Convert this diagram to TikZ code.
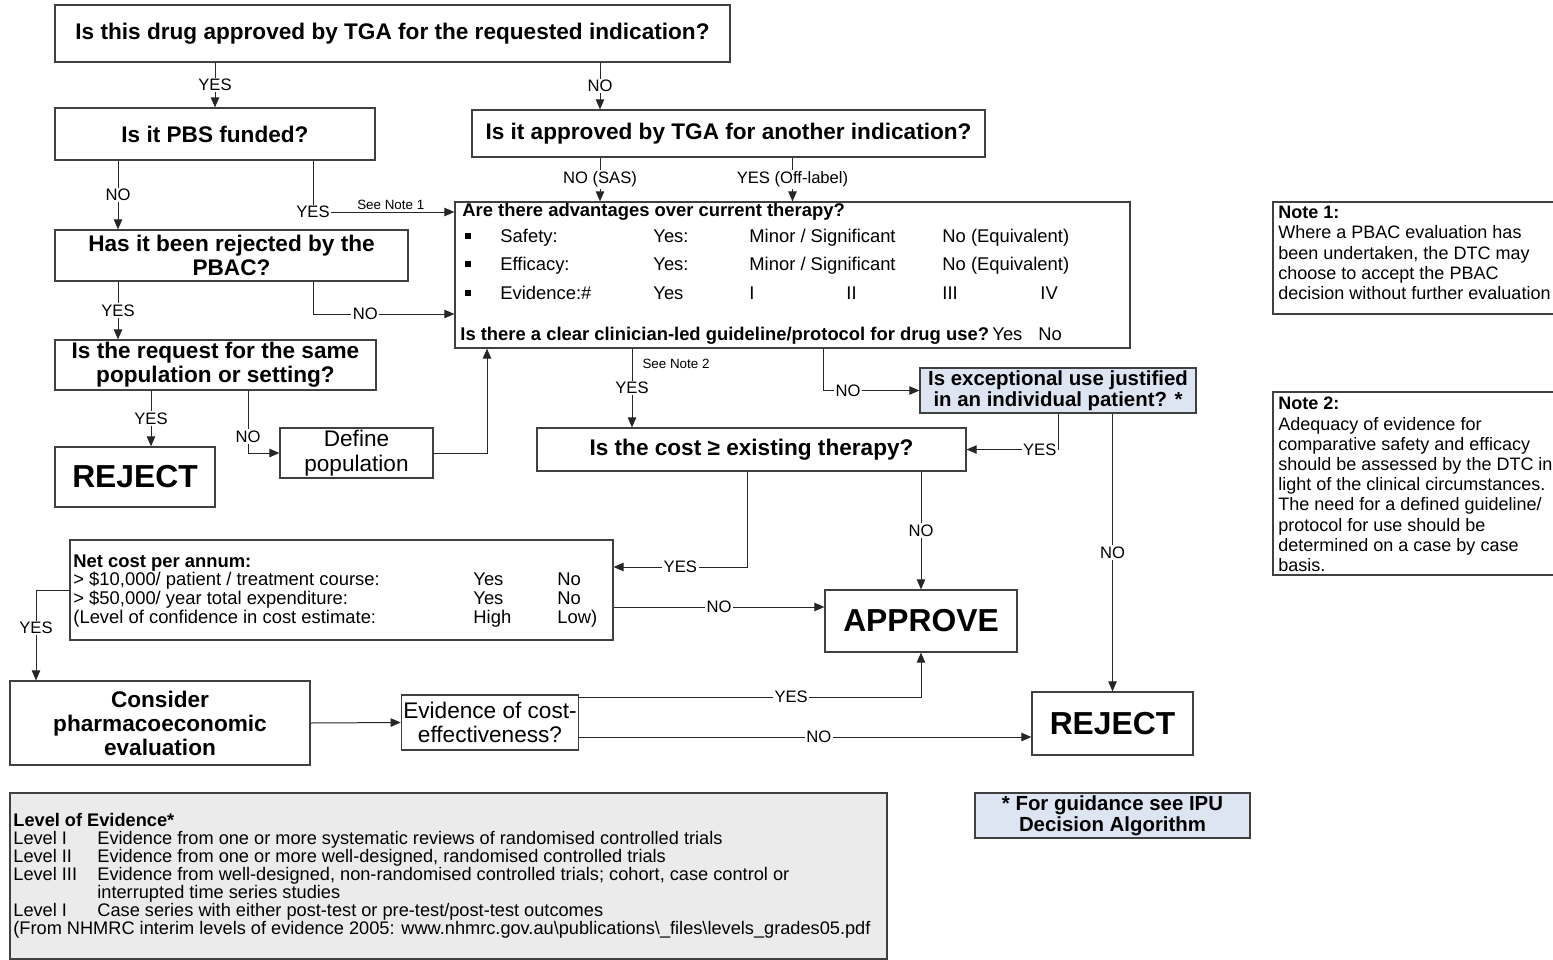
\documentclass[tikz,border=0pt]{standalone}
\usepackage{fontspec}
\setmainfont{Liberation Sans}
\usepackage{tikz}
\usetikzlibrary{arrows.meta,positioning}
\definecolor{ipublue}{RGB}{221,228,242}
\definecolor{evidgray}{RGB}{235,235,235}
\definecolor{edgegray}{RGB}{64,64,64}

\begin{document}
\begin{tikzpicture}[
        x=0.5pt, y=-0.5pt,
        % boxes are sized in pt, placed in pixel units of the page
        box/.style={rectangle, draw=edgegray, line width=0.6pt, fill=white, text=black,
            align=center, inner sep=1pt,
            font=\fontsize{11.3}{12}\selectfont\bfseries},
        plainbox/.style={box, font=\fontsize{11.3}{12.2}\selectfont},
        endbox/.style={box, font=\fontsize{15.9}{16}\selectfont\bfseries},
        bluebox/.style={box, fill=ipublue, font=\fontsize{10.2}{10.4}\selectfont\bfseries},
        txt/.style={anchor=base west, inner sep=0pt, font=\fontsize{9.2}{10}\selectfont},
        evtxt/.style={txt, font=\fontsize{9.1}{9}\selectfont},
        notetxt/.style={anchor=north west, inner sep=0pt, align=left,
            font=\fontsize{9}{10.1}\selectfont},
        bullet/.style={fill=black, inner sep=0pt, minimum size=3pt},
        lbl/.style={fill=white, inner sep=0.8pt, font=\fontsize{8.3}{9}\selectfont},
        small/.style={inner sep=1pt, font=\fontsize{6.7}{7}\selectfont},
        arr/.style={draw=black!85, line width=0.5pt, -{Triangle[length=5pt,width=4.2pt]}}
    ]
        \useasboundingbox (0,0) rectangle (1553,959);

        % Questions
        \node[box, minimum width=337.5pt, minimum height=28.5pt] (q1) at (392.5,33.5) {Is this drug approved by TGA for the requested indication?};
        \node[box, minimum width=160pt, minimum height=26pt] (q2) at (215,134) {Is it PBS funded?};
        \node[box, minimum width=256.5pt, minimum height=23.5pt] (q3) at (728.5,133.5) {Is it approved by TGA for another indication?};
        \node[box, minimum width=337.5pt, minimum height=73pt] (adv) at (792.5,275) {};
        \node[box, minimum width=176.5pt, minimum height=25.5pt] (q4) at (231.5,255.5) {Has it been rejected by the\\PBAC?};
        \node[box, minimum width=160.5pt, minimum height=25pt] (q5) at (215.5,365) {Is the request for the same\\population or setting?};
        \node[endbox, minimum width=80pt, minimum height=30pt] (rej1) at (135,477) {REJECT};
        \node[plainbox, minimum width=76.5pt, minimum height=25pt] (defpop) at (356.5,453) {Define\\population};
        \node[box, minimum width=214.5pt, minimum height=21.5pt] (q6) at (751.5,449.5) {Is the cost ≥ existing therapy?};
        \node[bluebox, minimum width=138pt, minimum height=22.5pt] (q7) at (1058,390.5) {Is exceptional use justified\\in an individual patient? *};
        \node[box, minimum width=271.5pt, minimum height=50pt] (netcost) at (341.5,590) {};
        \node[endbox, minimum width=96pt, minimum height=31pt] (appr) at (921,621) {APPROVE};
        \node[box, minimum width=150pt, minimum height=42pt] (pe) at (160,723) {Consider\\pharmacoeconomic\\evaluation};
        \node[plainbox, minimum width=83pt, minimum height=27.5pt] (ece) at (490,722.5) {Evidence of cost-\\effectiveness?};
        \node[endbox, minimum width=80.5pt, minimum height=31.5pt] (rej2) at (1112.5,723.5) {REJECT};

        % Side boxes
        \node[box, fill=evidgray, minimum width=438.5pt, minimum height=83pt] (loe) at (448.5,876) {};
        \node[bluebox, minimum width=137.5pt, minimum height=22.5pt] (ipu) at (1112.5,815.5) {* For guidance see IPU\\Decision Algorithm};
        \node[box, minimum width=141.5pt, minimum height=56pt] (note1) at (1414.5,258) {};
        \node[box, minimum width=141.5pt, minimum height=91.5pt] (note2) at (1414.5,483.5) {};

        % Advantages over current therapy
        \node[txt, font=\fontsize{9.2}{10}\selectfont\bfseries] (advq) at (462,216) {Are there advantages over current therapy?};
        \node[bullet] (b1) at (468,236) {};
        \node[bullet] (b2) at (468,264) {};
        \node[bullet] (b3) at (468,293) {};
        \node[txt] (safe) at (500,242) {Safety:};
        \node[txt] (safeyes) at (653,242) {Yes:};
        \node[txt] (safemin) at (749,242) {Minor / Significant};
        \node[txt] (safeno) at (942,242) {No (Equivalent)};
        \node[txt] (eff) at (500,270) {Efficacy:};
        \node[txt] (effyes) at (653,270) {Yes:};
        \node[txt] (effmin) at (749,270) {Minor / Significant};
        \node[txt] (effno) at (942,270) {No (Equivalent)};
        \node[txt] (evid) at (500,299) {Evidence:\#};
        \node[txt] (evidyes) at (653,299) {Yes};
        \node[txt] (lvone) at (749,299) {I};
        \node[txt] (lvtwo) at (846,299) {II};
        \node[txt] (lvthree) at (942,299) {III};
        \node[txt] (lvfour) at (1040,299) {IV};
        \node[txt, font=\fontsize{9.2}{10}\selectfont\bfseries] (guideq) at (460,340) {Is there a clear clinician-led guideline/protocol for drug use?};
        \node[txt] (guideyes) at (992,340) {Yes};
        \node[txt] (guideno) at (1038,340) {No};

        % Net cost
        \node[txt, font=\fontsize{9.2}{10}\selectfont\bfseries] (costq) at (73,567) {Net cost per annum:};
        \node[txt] (costa) at (73,585) {> \$10,000/ patient / treatment course:};
        \node[txt] (costayes) at (473,585) {Yes};
        \node[txt] (costano) at (557,585) {No};
        \node[txt] (costb) at (73,604) {> \$50,000/ year total expenditure:};
        \node[txt] (costbyes) at (473,604) {Yes};
        \node[txt] (costbno) at (557,604) {No};
        \node[txt] (costc) at (73,623) {(Level of confidence in cost estimate:};
        \node[txt] (costchigh) at (473,623) {High};
        \node[txt] (costclow) at (557,623) {Low)};

        % Level of evidence
        \node[evtxt, font=\fontsize{9.1}{9}\selectfont\bfseries] (loeq) at (13,826) {Level of Evidence*};
        \node[evtxt] (loea) at (13,844) {Level I};
        \node[evtxt] (loeat) at (97,844) {Evidence from one or more systematic reviews of randomised controlled trials};
        \node[evtxt] (loeb) at (13,862) {Level II};
        \node[evtxt] (loebt) at (97,862) {Evidence from one or more well-designed, randomised controlled trials};
        \node[evtxt] (loec) at (13,880) {Level III};
        \node[evtxt] (loect) at (97,880) {Evidence from well-designed, non-randomised controlled trials; cohort, case control or};
        \node[evtxt] (loect2) at (97,898) {interrupted time series studies};
        \node[evtxt] (loed) at (13,916) {Level I};
        \node[evtxt] (loedt) at (97,916) {Case series with either post-test or pre-test/post-test outcomes};
        \node[evtxt] (loesrc) at (13,934) {(From NHMRC interim levels of evidence 2005: www.nhmrc.gov.au\textbackslash publications\textbackslash\_files\textbackslash levels\_grades05.pdf};

        % Notes
        \node[notetxt] (note1t) at (1278,206) {\textbf{Note 1:}\\Where a PBAC evaluation has\\been undertaken, the DTC may\\choose to accept the PBAC\\decision without further evaluation};
        \node[notetxt] (note2t) at (1278,397) {\textbf{Note 2:}\\Adequacy of evidence for\\comparative safety and efficacy\\should be assessed by the DTC in\\light of the clinical circumstances.\\The need for a defined guideline/\\protocol for use should be\\determined on a case by case\\basis.};

        % Connections
        \coordinate (xno) at (600,0);
        \coordinate (xfund) at (118,0);
        \coordinate (seeone) at (313,212);
        \coordinate (pbacno) at (313,314);
        \coordinate (xsame) at (151,0);
        \coordinate (xnewpop) at (248,0);
        \coordinate (xdef) at (487,0);
        \coordinate (xguide) at (632,0);
        \coordinate (xexcept) at (823,0);
        \coordinate (costyes) at (747,567);
        \coordinate (costno) at (0,607);
        \coordinate (xpe) at (36,0);
        \coordinate (yesappr) at (0,697);
        \coordinate (norej) at (0,737);

        \draw[arr] (q1.south -| q2.north) -- node[lbl]{YES} (q2.north);
        \draw[arr] (q1.south -| xno) -- node[lbl]{NO} (q3.north -| xno);
        \draw[arr] (q2.south -| xfund) -- node[lbl]{NO} (q4.north -| xfund);
        \draw[arr] (q2.south -| seeone) -- (seeone) node[lbl]{YES} -- node[small, above, pos=0.55]{See Note 1} (seeone -| adv.west);
        \draw[arr] (q4.south -| pbacno) -- (pbacno) -- node[lbl, pos=0.37]{NO} (pbacno -| adv.west);
        \draw[arr] (q4.south -| xfund) -- node[lbl]{YES} (q5.north -| xfund);
        \draw[arr] (q5.south -| xsame) -- node[lbl]{YES} (rej1.north -| xsame);
        \draw[arr] (q5.south -| xnewpop) |- node[lbl, pos=0.37]{NO} (defpop.west);
        \draw[arr] (defpop.east) -| (adv.south -| xdef);
        \draw[arr] (q3.south -| xno) -- node[lbl]{NO (SAS)} (adv.north -| xno);
        \draw[arr] (q3.south -| adv.north) -- node[lbl]{YES (Off-label)} (adv.north);
        \draw[arr] (adv.south -| xguide) -- node[lbl]{YES} node[small, right, pos=0.2, xshift=4pt]{See Note 2} (q6.north -| xguide);
        \draw[arr] (adv.south -| xexcept) |- node[lbl, pos=0.63]{NO} (q7.west);
        \draw[arr] (q7.south) |- node[lbl, pos=0.6]{YES} (q6.east);
        \draw[arr] (q7.south -| rej2.north) -- node[lbl]{NO} (rej2.north);
        \draw[arr] (q6.south -| costyes) -- (costyes) -- node[lbl]{YES} (costyes -| netcost.east);
        \draw[arr] (q6.south -| appr.north) -- node[lbl]{NO} (appr.north);
        \draw[arr] (netcost.east |- costno) -- node[lbl]{NO} (appr.west |- costno);
        \draw[arr] (netcost.west) -| node[lbl, pos=0.71]{YES} (pe.north -| xpe);
        \draw[arr] (pe.east) -- (ece.west);
        \draw[arr] (ece.east |- yesappr) -| node[lbl, pos=0.31]{YES} (appr.south);
        \draw[arr] (ece.east |- norej) -- node[lbl, pos=0.53]{NO} (rej2.west |- norej);
    \end{tikzpicture}
\end{document}
